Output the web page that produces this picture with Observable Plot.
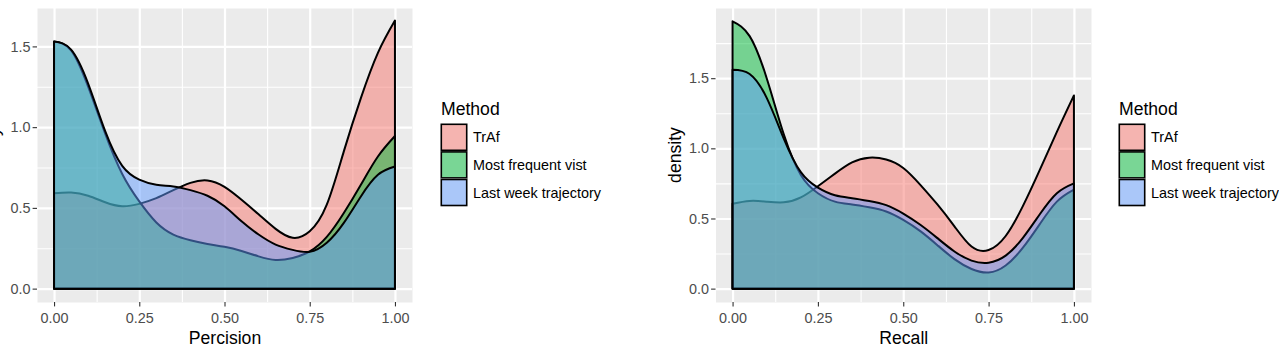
<!DOCTYPE html>
<html>
<head>
<meta charset="utf-8">
<script src="https://cdn.jsdelivr.net/npm/d3@7"></script>
<script src="https://cdn.jsdelivr.net/npm/@observablehq/plot@0.6"></script>
<style>
  body { margin: 0; background: #ffffff; }
  #chart { position: relative; width: 1279px; height: 350px; overflow: hidden; background: #ffffff;
           font-family: "Liberation Sans", Arial, Helvetica, sans-serif; }
  #chart > svg { position: absolute; top: 0; }
</style>
</head>
<body>
<div id="chart"></div>
<script>
// ---------- data ----------
const methods = ["TrAf", "Most frequent vist", "Last week trajectory"];
const methodColors = ["#F8766D", "#00BA38", "#619CFF"];

const xGrid = [0, 0.05, 0.1, 0.15, 0.2, 0.25, 0.3, 0.35, 0.4, 0.45, 0.5,
               0.55, 0.6, 0.65, 0.7, 0.75, 0.8, 0.85, 0.9, 0.95, 1];

// Precision densities
const precisionTrAf         = [0.59, 0.595, 0.575, 0.535, 0.51, 0.525, 0.56, 0.61, 0.655, 0.67, 0.63,
                               0.55, 0.46, 0.37, 0.315, 0.355, 0.52, 0.85, 1.18, 1.46, 1.66];
const precisionMostFrequent = [1.53, 1.475, 1.25, 0.96, 0.71, 0.54, 0.41, 0.335, 0.30, 0.277, 0.259,
                               0.233, 0.20, 0.178, 0.19, 0.23, 0.32, 0.468, 0.643, 0.818, 0.945];
const precisionLastWeek     = [1.53, 1.48, 1.27, 0.975, 0.76, 0.675, 0.643, 0.633, 0.61, 0.575, 0.51,
                               0.417, 0.335, 0.273, 0.24, 0.228, 0.284, 0.407, 0.571, 0.705, 0.756];

// Recall densities
const recallTrAf         = [0.605, 0.625, 0.62, 0.615, 0.65, 0.73, 0.82, 0.90, 0.933, 0.92, 0.86,
                            0.74, 0.60, 0.444, 0.30, 0.275, 0.375, 0.586, 0.846, 1.117, 1.377];
const recallMostFrequent = [1.905, 1.80, 1.50, 1.10, 0.81, 0.68, 0.62, 0.60, 0.58, 0.55, 0.49,
                            0.41, 0.31, 0.21, 0.14, 0.115, 0.165, 0.29, 0.46, 0.62, 0.705];
const recallLastWeek     = [1.56, 1.53, 1.36, 1.07, 0.83, 0.72, 0.665, 0.645, 0.625, 0.595, 0.535,
                            0.455, 0.36, 0.265, 0.20, 0.185, 0.235, 0.36, 0.53, 0.68, 0.75];

const xMajorTicks = [0, 0.25, 0.5, 0.75, 1];
const xMinorTicks = [0.125, 0.375, 0.625, 0.875];
const xTickLabels = ["0.00", "0.25", "0.50", "0.75", "1.00"];
const yMajorTicks = [0, 0.5, 1, 1.5];
const yTickLabels = ["0.0", "0.5", "1.0", "1.5"];
const yMinorPrecision = [0.25, 0.75, 1.25];
const yMinorRecall = [0.25, 0.75, 1.25, 1.75];

const legendTitle = "Method";
const yTitle = "density";

// ---------- helpers ----------
const FONT = '"Liberation Sans", Arial, Helvetica, sans-serif';
const rowsFor = (values, method) => xGrid.map((x, i) => ({method, x, density: values[i]}));

function makePanel({width, marginLeft, yDomain, yMinor, series, xTitle, yTitleX}) {
  const grid = {stroke: "#ffffff", strokeOpacity: 1};
  const svg = Plot.plot({
    width, height: 350,
    marginLeft, marginRight: 8, marginTop: 8, marginBottom: 48,
    style: {fontFamily: FONT, background: "transparent", color: "#333333"},
    x: {domain: [-0.05, 1.05], label: null},
    y: {domain: yDomain, label: null},
    marks: [
      Plot.frame({fill: "#EBEBEB", stroke: "none"}),
      Plot.gridX(xMinorTicks, {...grid, strokeWidth: 1.1}),
      Plot.gridY(yMinor, {...grid, strokeWidth: 1.1}),
      Plot.gridX(xMajorTicks, {...grid, strokeWidth: 2.2}),
      Plot.gridY(yMajorTicks, {...grid, strokeWidth: 2.2}),
      ...methods.map((m, i) => Plot.areaY(rowsFor(series[i], m), {
        x: "x", y: "density",
        fill: methodColors[i], fillOpacity: 0.5,
        stroke: "#000000", strokeWidth: 2, strokeLinejoin: "round",
        curve: "natural"
      })),
      Plot.axisX({
        ticks: xMajorTicks, tickSize: 4.4, tickPadding: 5.6,
        tickFormat: d => xTickLabels[xMajorTicks.indexOf(d)],
        fontSize: 14.4, stroke: "#333333", fill: "#4D4D4D", strokeWidth: 1.1, label: null
      }),
      Plot.axisY({
        ticks: yMajorTicks, tickSize: 4.4, tickPadding: 2.6,
        tickFormat: d => yTickLabels[yMajorTicks.indexOf(d)],
        fontSize: 14.4, stroke: "#333333", fill: "#4D4D4D", strokeWidth: 1.1, label: null
      }),
      Plot.text([xTitle], {text: d => d, frameAnchor: "bottom", dy: 41, lineAnchor: "bottom",
                           textAnchor: "middle", fontSize: 17.6, fill: "#000000"})
    ]
  });
  // y-axis title (rotated, centred on the panel)
  const cy = 8 + (350 - 8 - 48) / 2;
  d3.select(svg).append("text")
    .attr("transform", `translate(${yTitleX},${cy}) rotate(-90)`)
    .attr("text-anchor", "middle")
    .attr("font-size", 17.6)
    .attr("font-family", FONT)
    .attr("fill", "#000000")
    .text(yTitle);
  return svg;
}

function makeLegend(left) {
  const svg = d3.create("svg")
    .attr("width", 200).attr("height", 130)
    .style("left", left + "px").style("top", "90px")
    .style("font-family", FONT);
  svg.append("text").attr("x", 3).attr("y", 25)
    .attr("font-size", 17.6).attr("fill", "#000").text(legendTitle);
  const kx = 2.5, ky = 33.5, kw = 27, kh = 27.6;
  methods.forEach((m, i) => {
    const y = ky + i * kh;
    svg.append("rect").attr("x", kx).attr("y", y).attr("width", kw).attr("height", kh)
      .attr("fill", "#F2F2F2");
    svg.append("rect").attr("x", kx + 0.8).attr("y", y + 0.8)
      .attr("width", kw - 1.6).attr("height", kh - 1.6)
      .attr("fill", methodColors[i]).attr("fill-opacity", 0.5)
      .attr("stroke", "#000").attr("stroke-width", 1.6);
    svg.append("text").attr("x", kx + kw + 5.5).attr("y", y + kh / 2 + 5)
      .attr("font-size", 14.4).attr("fill", "#000").text(m);
  });
  return svg.node();
}

// ---------- build ----------
const chart = document.getElementById("chart");

const p1 = makePanel({
  width: 420, marginLeft: 37,
  yDomain: [-0.0828, 1.7378], yMinor: yMinorPrecision,
  series: [precisionTrAf, precisionMostFrequent, precisionLastWeek],
  xTitle: "Percision", yTitleX: -0.8
});
p1.style.left = "0px";
chart.appendChild(p1);

const p2 = makePanel({
  width: 459, marginLeft: 75.5,
  yDomain: [-0.0953, 2.0003], yMinor: yMinorRecall,
  series: [recallTrAf, recallMostFrequent, recallLastWeek],
  xTitle: "Recall", yTitleX: 41
});
p2.style.left = "640px";
chart.appendChild(p2);

chart.appendChild(makeLegend(438));
chart.appendChild(makeLegend(1115.5));
</script>
</body>
</html>
